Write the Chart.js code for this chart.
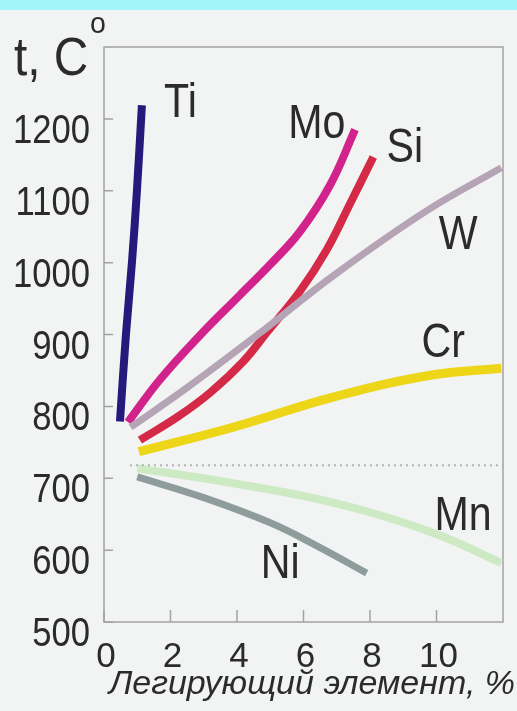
<!DOCTYPE html>
<html>
<head>
<meta charset="utf-8">
<script src="https://cdn.jsdelivr.net/npm/chart.js@4.4.0/dist/chart.umd.min.js"></script>
<style>
    html, body { margin: 0; padding: 0; background: #f2f3f3; }
    #wrap { width: 517px; height: 711px; position: relative; }
</style>
</head>
<body>
<div id="wrap"><canvas id="chart"></canvas></div>
<script>
// Data: x = alloying element, %, y = temperature, C
const tiX = [0.48, 0.66, 0.84, 0.99, 1.14];
const tiY = [779, 900, 1000, 1100, 1219];
const moX = [0.72, 1.68, 2.89, 4.09, 4.99, 5.89, 6.80, 7.55];
const moY = [778, 837, 899, 955, 997, 1043, 1108, 1185];
const siX = [1.08, 2.20, 3.19, 4.18, 4.90, 5.89, 6.70, 7.40, 8.10];
const siY = [753, 785, 819, 862, 903, 960, 1018, 1082, 1147];
const wX = [0.80, 2.50, 4.80, 6.90, 9.70, 11.95];
const wY = [771, 826, 906, 982, 1072, 1132];
const crX = [1.05, 3.88, 6.89, 9.90, 11.95];
const crY = [737, 771, 813, 844, 853];
const mnX = [1.0, 3.88, 6.89, 9.90, 11.95];
const mnY = [714, 693, 666, 624, 582];
const niX = [1.0, 3.0, 5.0, 6.40, 7.90];
const niY = [702, 673, 638, 606, 568];
const a1X = [0.78, 12];
const a1Y = [718, 718];

const xTicks = [0, 2, 4, 6, 8, 10];
const yTicks = [500, 600, 700, 800, 900, 1000, 1100, 1200];

// curve names and where they are written (in data units)
const curveNames = ['Ti', 'Mo', 'Si', 'W', 'Cr', 'Mn', 'Ni'];
const nameX = [2.3, 6.4, 9.05, 10.65, 10.2, 10.8, 5.3];
const nameY = [1226, 1197, 1164, 1043, 892, 652, 585];

const xTitle = 'Легирующий элемент, %';

const SANS = "'Liberation Sans', Arial, sans-serif";
const INK = '#2b2b2b';
const FRAME = '#a3a3a3';

const pts = (xs, ys) => xs.map((x, i) => ({ x: x, y: ys[i] }));

function curve(label, xs, ys, color, width) {
    return {
        label: label,
        data: pts(xs, ys),
        borderColor: color,
        borderWidth: width,
        borderCapStyle: 'butt',
        tension: 0.4,
        pointRadius: 0,
        fill: false
    };
}

// text squeezed horizontally, like the narrow face of the original
function narrowText(ctx, str, x, y, squeeze) {
    ctx.save();
    ctx.translate(x, y);
    ctx.scale(squeeze, 1);
    ctx.fillText(str, 0, 0);
    ctx.restore();
}

// page background + cyan strip on top
const backdrop = {
    id: 'backdrop',
    beforeDraw(chart) {
        const ctx = chart.ctx;
        ctx.save();
        ctx.fillStyle = '#f2f3f3';
        ctx.fillRect(0, 0, chart.width, chart.height);
        ctx.fillStyle = '#a2f5fa';
        ctx.fillRect(0, 0, chart.width, 10);
        ctx.restore();
    }
};

// frame with inward tick marks, y tick labels, x title
const frame = {
    id: 'frame',
    beforeDatasetsDraw(chart) {
        const { ctx, chartArea: a, scales } = chart;
        ctx.save();
        ctx.strokeStyle = FRAME;
        ctx.lineWidth = 1.5;
        ctx.strokeRect(a.left, a.top, a.right - a.left, a.bottom - a.top);
        ctx.beginPath();
        yTicks.forEach(v => {
            const y = scales.y.getPixelForValue(v);
            ctx.moveTo(a.left, y);
            ctx.lineTo(a.left + 9, y);
        });
        xTicks.forEach(v => {
            const x = scales.x.getPixelForValue(v);
            ctx.moveTo(x, a.bottom);
            ctx.lineTo(x, a.bottom - 12);
        });
        ctx.stroke();

        ctx.fillStyle = INK;
        ctx.textAlign = 'right';
        ctx.textBaseline = 'alphabetic';
        ctx.font = '41px ' + SANS;
        yTicks.forEach(v => {
            const y = scales.y.getPixelForValue(v);
            narrowText(ctx, String(v), 90, y + 24, 0.845);
        });

        ctx.textAlign = 'center';
        ctx.font = 'italic 34px ' + SANS;
        ctx.fillText(xTitle, 312, 694);
        ctx.restore();
    }
};

// curve names and the axis unit "t, C°"
const names = {
    id: 'names',
    afterDatasetsDraw(chart) {
        const { ctx, scales } = chart;
        ctx.save();
        ctx.fillStyle = INK;
        ctx.textAlign = 'center';
        ctx.textBaseline = 'alphabetic';
        ctx.font = '49px ' + SANS;
        curveNames.forEach((n, i) => {
            const x = scales.x.getPixelForValue(nameX[i]);
            const y = scales.y.getPixelForValue(nameY[i]);
            narrowText(ctx, n, x, y + 17, 0.84);
        });
        ctx.textAlign = 'left';
        ctx.font = '53px ' + SANS;
        narrowText(ctx, 't, C', 14, 75, 0.9);
        ctx.font = '30px ' + SANS;
        narrowText(ctx, 'o', 90, 33, 0.95);
        ctx.restore();
    }
};

new Chart(document.getElementById('chart'), {
    type: 'line',
    data: {
        datasets: [
            {
                label: 'A1',
                data: pts(a1X, a1Y),
                borderColor: '#b0b4b4',
                borderWidth: 2,
                borderDash: [2, 4],
                pointRadius: 0,
                fill: false
            },
            curve('Mn', mnX, mnY, '#cdeac5', 8),
            curve('Ni', niX, niY, '#8e9c9c', 7),
            curve('Cr', crX, crY, '#edd518', 9),
            curve('W', wX, wY, '#b4a4b6', 7),
            curve('Si', siX, siY, '#d42a48', 8),
            curve('Mo', moX, moY, '#d2228c', 8),
            curve('Ti', tiX, tiY, '#25197c', 8)
        ]
    },
    options: {
        responsive: true,
        maintainAspectRatio: false,
        animation: false,
        layout: { padding: { left: 0, top: 47, right: 14, bottom: 0 } },
        plugins: {
            legend: { display: false },
            tooltip: { enabled: false }
        },
        scales: {
            x: {
                type: 'linear',
                min: 0,
                max: 12,
                afterFit: s => { s.height = 89; },
                afterBuildTicks: s => { s.ticks = xTicks.map(v => ({ value: v })); },
                grid: { display: false, drawTicks: false },
                border: { display: false },
                ticks: {
                    color: INK,
                    padding: 14,
                    labelOffset: 2,
                    font: { family: SANS, size: 35 }
                }
            },
            y: {
                min: 500,
                max: 1300,
                afterFit: s => { s.width = 104; },
                afterBuildTicks: s => { s.ticks = yTicks.map(v => ({ value: v })); },
                grid: { display: false, drawTicks: false },
                border: { display: false },
                ticks: { display: false }
            }
        }
    },
    plugins: [backdrop, frame, names]
});
</script>
</body>
</html>
